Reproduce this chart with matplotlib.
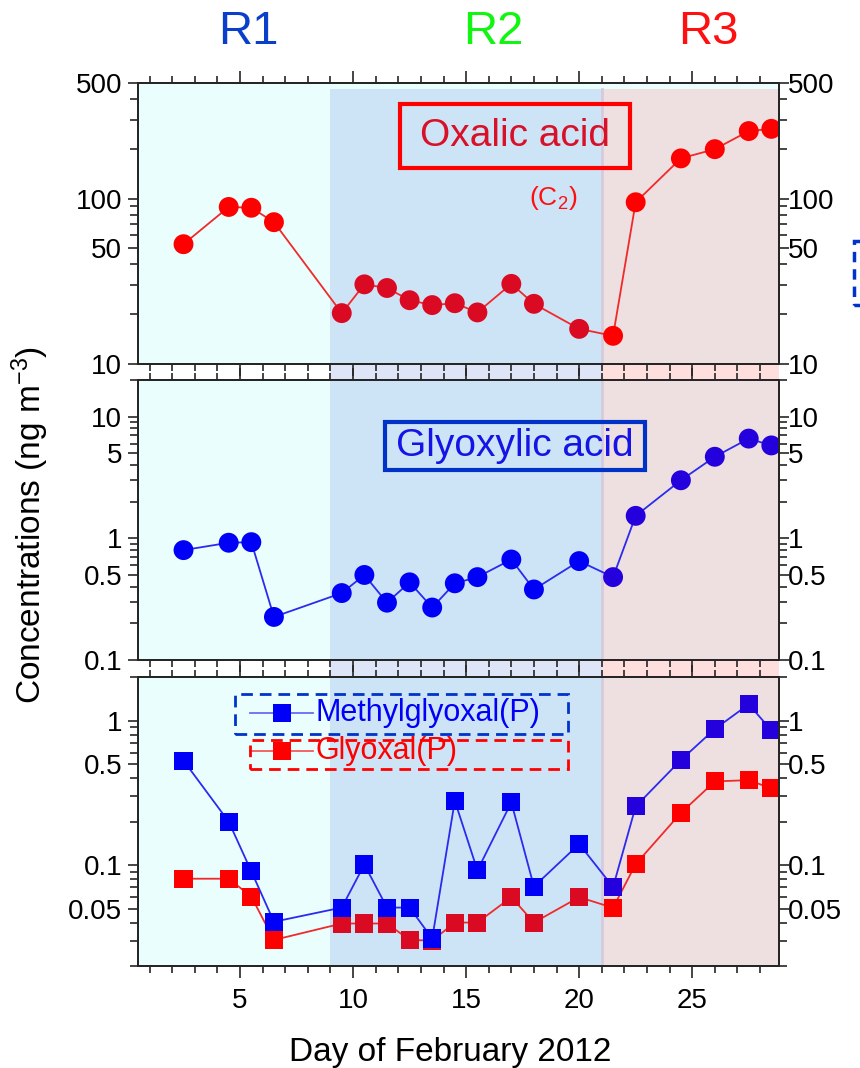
import numpy as np
import matplotlib
matplotlib.use('Agg')
import matplotlib.pyplot as plt
import matplotlib.transforms as mtransforms
from matplotlib.patches import Rectangle
from matplotlib.lines import Line2D
from matplotlib.ticker import FixedLocator, MultipleLocator, FuncFormatter, NullFormatter

plt.rcParams['font.family'] = ['Liberation Sans', 'DejaVu Sans']
plt.rcParams['mathtext.fontset'] = 'custom'
plt.rcParams['mathtext.rm'] = 'Liberation Sans'
plt.rcParams['mathtext.it'] = 'Liberation Sans:italic'
plt.rcParams['mathtext.bf'] = 'Liberation Sans:bold'

# sampling days, February 2012
days = [2.5, 4.5, 5.5, 6.5, 9.5, 10.5, 11.5, 12.5, 13.5, 14.5, 15.5,
        17, 18, 20, 21.5, 22.5, 24.5, 26, 27.5, 28.5]

# concentrations, ng m-3
oxalic = [53, 89, 88, 72, 20.3, 30.3, 28.8, 24.3, 22.7, 23.3, 20.5,
          30.5, 23.1, 16.3, 14.8, 95, 175, 199, 256, 264]
glyoxylic = [0.80, 0.92, 0.93, 0.226, 0.355, 0.50, 0.296, 0.435, 0.27, 0.427, 0.48,
             0.67, 0.38, 0.65, 0.48, 1.53, 3.0, 4.68, 6.6, 5.8]
methylglyoxal = [0.53, 0.20, 0.0905, 0.0405, 0.0508, 0.101, 0.0508, 0.0508, 0.031, 0.279, 0.092,
                 0.272, 0.071, 0.140, 0.0705, 0.255, 0.535, 0.877, 1.30, 0.86]
glyoxal = [0.0805, 0.0805, 0.0605, 0.0303, 0.0394, 0.0394, 0.0394, 0.0303, 0.030, 0.040, 0.040,
           0.060, 0.040, 0.060, 0.0506, 0.1016, 0.23, 0.38, 0.388, 0.34]

# periods
region_names = ['R1', 'R2', 'R3']
region_edges = [0.5, 9, 21, 28.85]
region_label_colors = ['#0a3fcc', '#12f512', '#ff1010']
region_fill = ['#eafefd', '#cde4f6', '#eedfe0']
region_gap_fill = ['#ffffff', '#dde5f7', '#ffdede']

xlim = (region_edges[0], region_edges[-1])

fig = plt.figure(figsize=(8.6, 10.68), dpi=100)

left, width = 0.1608, 0.7453
ax_top = fig.add_axes([left, 0.6592, width, 0.2631])
ax_mid = fig.add_axes([left, 0.3820, width, 0.2622])
ax_bot = fig.add_axes([left, 0.0955, width, 0.2703])

panels = [
    (ax_top, (10, 500), [10, 50, 100, 500]),
    (ax_mid, (0.1, 20), [0.1, 0.5, 1, 5, 10]),
    (ax_bot, (0.02, 2), [0.05, 0.1, 0.5, 1]),
]

spine_col = '#262626'
fmt = FuncFormatter(lambda v, p: '%g' % v)


def minor_ticks(ylim, major):
    out = []
    for e in range(-3, 4):
        for m in range(1, 10):
            v = round(m * 10.0 ** e, 6)
            if ylim[0] <= v <= ylim[1] and v not in major:
                out.append(v)
    return out


def region_colors(base, alt, alt_region):
    lo, hi = region_edges[alt_region], region_edges[alt_region + 1]
    return [alt if lo <= d < hi else base for d in days]


for i, (ax, ylim, major) in enumerate(panels):
    ax.set_yscale('log')
    ax.set_xlim(xlim)
    ax.set_ylim(ylim)
    ax.set_facecolor(region_fill[0])
    top_frac = 0.979 if i == 0 else 1.0
    for k in (1, 2):
        ax.axvspan(region_edges[k], region_edges[k + 1], ymin=0, ymax=top_frac,
                   color=region_fill[k], lw=0, zorder=0)
    ax.axvline(region_edges[2], ymin=0, ymax=top_frac, color='#d6cadd', lw=2, zorder=0.5)

    # right-hand copy of the y axis
    tw = ax.twinx()
    tw.set_yscale('log')
    tw.set_ylim(ylim)
    for a in (ax, tw):
        a.yaxis.set_major_locator(FixedLocator(major))
        a.yaxis.set_minor_locator(FixedLocator(minor_ticks(ylim, major)))
        a.yaxis.set_major_formatter(fmt)
        a.yaxis.set_minor_formatter(NullFormatter())
        for s in a.spines.values():
            s.set_linewidth(1.4)
            s.set_color(spine_col)
    ax.tick_params(axis='y', which='major', left=True, right=False, direction='out',
                   length=7.5, width=1.2, pad=4, labelsize=20, color=spine_col)
    ax.tick_params(axis='y', which='minor', left=True, right=False, direction='out',
                   length=5.8, width=1.2, color=spine_col)
    tw.tick_params(axis='y', which='major', direction='out', length=7.5, width=1.2,
                   pad=-1, labelsize=20, color=spine_col)
    tw.tick_params(axis='y', which='minor', direction='out', length=5.8, width=1.2,
                   color=spine_col)

    ax.xaxis.set_major_locator(FixedLocator([5, 10, 15, 20, 25]))
    ax.xaxis.set_minor_locator(MultipleLocator(1))
    ax.tick_params(axis='x', which='major', top=True, bottom=True, direction='out',
                   length=8.3, width=1.2, pad=7.5, labelsize=20, color=spine_col,
                   labelbottom=(i == 2))
    ax.tick_params(axis='x', which='minor', top=True, bottom=True, direction='out',
                   length=5.3, width=1.2, color=spine_col)

# oxalic acid
ax_top.plot(days, oxalic, color='#f02a2a', lw=1.3, zorder=2)
ax_top.scatter(days, oxalic, s=205, marker='o', zorder=3, lw=0,
               c=region_colors('#ff0000', '#da0a22', 1))

# glyoxylic acid
ax_mid.plot(days, glyoxylic, color='#2a2af0', lw=1.3, zorder=2)
ax_mid.scatter(days, glyoxylic, s=205, marker='o', zorder=3, lw=0,
               c=region_colors('#0000f8', '#2300dc', 2))

# dicarbonyls
ax_bot.plot(days, glyoxal, color='#f02a2a', lw=1.3, zorder=2)
ax_bot.scatter(days, glyoxal, s=170, marker='s', zorder=3, lw=0,
               c=region_colors('#ff0000', '#da0a22', 1))
ax_bot.plot(days, methylglyoxal, color='#2a2af0', lw=1.3, zorder=4)
ax_bot.scatter(days, methylglyoxal, s=170, marker='s', zorder=5, lw=0,
               c=region_colors('#0000f8', '#2300dc', 2))

# compound labels
ax_top.add_patch(Rectangle((0.408, 0.698), 0.359, 0.227, transform=ax_top.transAxes,
                           fill=False, ec='#ff0000', lw=3, zorder=6))
ax_top.text(0.588, 0.811, 'Oxalic acid', transform=ax_top.transAxes, ha='center',
            va='center', fontsize=28, color='#d81028', zorder=6)
ax_top.text(0.647, 0.591, '(C$_2$)', transform=ax_top.transAxes, ha='center',
            va='center', fontsize=19, color='#ff1010', zorder=6)

ax_mid.add_patch(Rectangle((0.385, 0.679), 0.4055, 0.172, transform=ax_mid.transAxes,
                           fill=False, ec='#0032c8', lw=3, zorder=6))
ax_mid.text(0.588, 0.764, 'Glyoxylic acid', transform=ax_mid.transAxes, ha='center',
            va='center', fontsize=28, color='#1414e6', zorder=6)

# legend for the lower panel
leg_items = [('Methylglyoxal(P)', '#0000f8', '#6a6af5', '#0033cc', 0.875, (0.151, 0.804, 0.519, 0.138)),
             ('Glyoxal(P)', '#ff0000', '#f55a5a', '#ff0000', 0.745, (0.1747, 0.681, 0.4953, 0.102))]
for label, mcol, lcol, bcol, yy, box in leg_items:
    ax_bot.add_line(Line2D([0.1745, 0.273], [yy, yy], transform=ax_bot.transAxes,
                           color=lcol, lw=1.3, zorder=6))
    ax_bot.add_line(Line2D([0.224], [yy], transform=ax_bot.transAxes, marker='s',
                           markersize=13, color=mcol, mew=0, zorder=7))
    ax_bot.text(0.2757, yy, label, transform=ax_bot.transAxes, ha='left', va='center',
                fontsize=22, color=mcol, zorder=7)
    ax_bot.add_patch(Rectangle(box[:2], box[2], box[3], transform=ax_bot.transAxes,
                               fill=False, ec=bcol, lw=2, ls=(0, (4.2, 2.5)), zorder=6))

# shading in the gaps between panels
gap_spans = [(0.3658, 0.3820), (0.6442, 0.6592)]
trans = mtransforms.blended_transform_factory(ax_top.transData, fig.transFigure)
for y0, y1 in gap_spans:
    for k in range(3):
        fig.add_artist(Rectangle((region_edges[k], y0), region_edges[k + 1] - region_edges[k],
                                 y1 - y0, transform=trans, color=region_gap_fill[k],
                                 lw=0, zorder=-1))

# period labels
for k, name in enumerate(region_names):
    xc = [248, 493, 708][k]
    fig.text(xc / 860, 1 - 32 / 1068, name, ha='center', va='center', fontsize=34,
             color=region_label_colors[k])

fig.text(30 / 860, 1 - 525 / 1068, 'Concentrations (ng m$^{-3}$)', rotation=90,
         ha='center', va='center', fontsize=24)
fig.text(450 / 860, 1 - 1052 / 1068, 'Day of February 2012', ha='center', va='center',
         fontsize=24)

# edge of a neighbouring frame
fig.add_artist(Rectangle((854 / 860, 1 - 305 / 1068), 0.1, 64 / 1068,
                         transform=fig.transFigure, fill=False, ec='#0033cc',
                         lw=2.5, ls=(0, (3, 2))))

fig.savefig('out.png', dpi=100)
